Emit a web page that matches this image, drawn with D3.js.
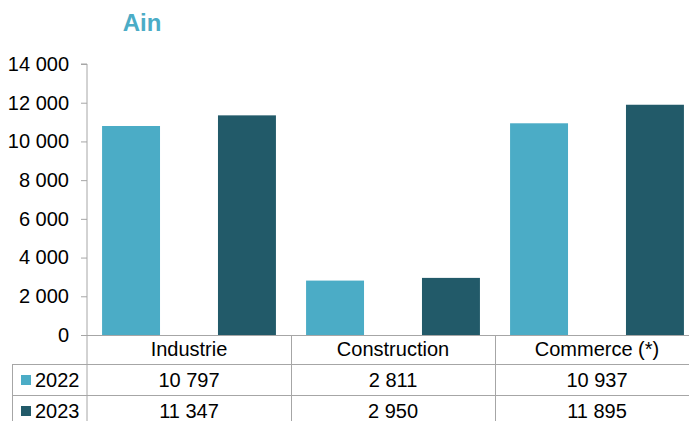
<!DOCTYPE html>
<html><head><meta charset="utf-8">
<script src="https://cdn.jsdelivr.net/npm/d3@7"></script>
<style>body{margin:0;background:#fff}svg{display:block}text{font-family:"Liberation Sans",Arial,sans-serif}</style>
</head><body><svg id="c" width="689" height="421"></svg>
<script>
const categories = ["Industrie","Construction","Commerce (*)"];
const seriesNames = ["2022","2023"];
const values2022 = [10797, 2811, 10937];
const values2023 = [11347, 2950, 11895];
const yTicks = [0,2000,4000,6000,8000,10000,12000,14000];
const colors = ["#4BACC6","#225A69"];
const series = [values2022, values2023];

const svg = d3.select("#c");
const x0 = 87, x1 = 699, yTop = 64, yBot = 335;
const fmt = v => d3.format(",")(v).replace(/,/g, "\u00a0");
const FS = 20;

const x = d3.scaleBand().domain(categories).range([x0, x1]);
const xs = d3.scaleBand().domain(seriesNames).range([0, x.bandwidth()]).paddingInner(0.5).paddingOuter(0.13);
const y = d3.scaleLinear().domain([0,14000]).range([yBot, yTop]);

svg.append("text").attr("x",142).attr("y",31).attr("text-anchor","middle")
  .attr("font-size",24).attr("font-weight","bold").attr("fill","#4BACC6").text("Ain");

// bars
series.forEach((vals, si) => {
  svg.append("g").selectAll("rect").data(vals).join("rect")
    .attr("x", (d,i) => x(categories[i]) + xs(seriesNames[si]))
    .attr("width", xs.bandwidth())
    .attr("y", d => y(d)).attr("height", d => yBot - y(d))
    .attr("fill", colors[si]);
});

// y axis
const ya = svg.append("g").attr("transform",`translate(${x0},0)`)
  .call(d3.axisLeft(y).tickValues(yTicks).tickSize(6).tickPadding(12).tickFormat(fmt));
ya.select(".domain").attr("stroke","#a6a6a6").attr("d",`M-6,${yTop}H0V${yBot+90}`);
ya.selectAll(".tick line").attr("stroke","#a6a6a6");
ya.selectAll(".tick text").attr("font-size",FS).attr("fill","#000")
  .attr("font-family","'Liberation Sans',Arial,sans-serif").attr("dy","0.32em");

// table
const lineC = "#a6a6a6";
const rowY = [yBot, 364.5, 395.5];
const g = svg.append("g");
g.append("line").attr("x1",x0-6).attr("x2",689).attr("y1",yBot+0.5).attr("y2",yBot+0.5).attr("stroke",lineC);
g.append("line").attr("x1",12).attr("x2",689).attr("y1",rowY[1]).attr("y2",rowY[1]).attr("stroke",lineC);
g.append("line").attr("x1",12).attr("x2",689).attr("y1",rowY[2]).attr("y2",rowY[2]).attr("stroke",lineC);
g.append("line").attr("x1",12.5).attr("x2",12.5).attr("y1",rowY[1]).attr("y2",421).attr("stroke",lineC);
categories.forEach((c,i) => {
  const xe = x(c) + x.bandwidth();
  if (i < categories.length - 1)
    g.append("line").attr("x1",xe+0.5).attr("x2",xe+0.5).attr("y1",yBot).attr("y2",421).attr("stroke",lineC);
  g.append("text").attr("x", x(c)+x.bandwidth()/2).attr("y", 356).attr("text-anchor","middle")
    .attr("font-size",FS).attr("fill","#000").text(c);
});

series.forEach((vals, si) => {
  const yy = [387, 418][si];
  g.append("rect").attr("x",21).attr("y",yy-12).attr("width",10).attr("height",10).attr("fill",colors[si]);
  g.append("text").attr("x",35).attr("y",yy).attr("font-size",FS).attr("fill","#000").text(seriesNames[si]);
  vals.forEach((v,i) => {
    g.append("text").attr("x", x(categories[i])+x.bandwidth()/2).attr("y", yy)
      .attr("text-anchor","middle").attr("font-size",FS).attr("fill","#000").text(fmt(v));
  });
});
</script></body></html>
